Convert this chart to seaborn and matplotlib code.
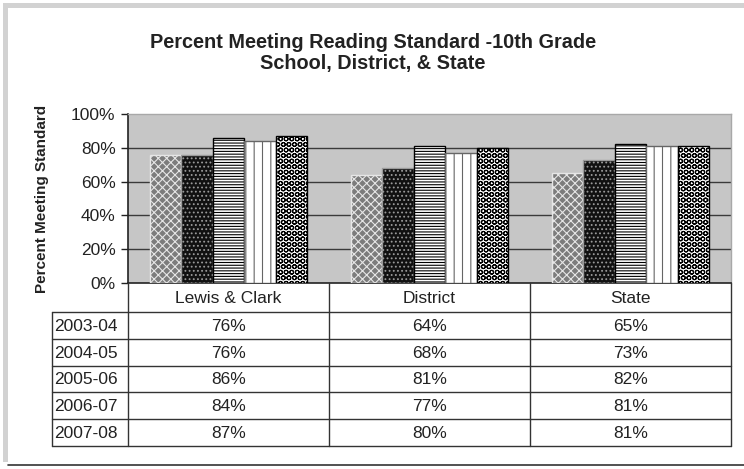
import numpy as np
import pandas as pd
import matplotlib
matplotlib.use("Agg")
import matplotlib.pyplot as plt
import seaborn as sns
from matplotlib.patches import Rectangle
from matplotlib.lines import Line2D

# ---- data ----
categories = ["Lewis & Clark", "District", "State"]
years = ["2003-04", "2004-05", "2005-06", "2006-07", "2007-08"]
v2003 = [76, 64, 65]
v2004 = [76, 68, 73]
v2005 = [86, 81, 82]
v2006 = [84, 77, 81]
v2007 = [87, 80, 81]
series = [v2003, v2004, v2005, v2006, v2007]
yticks = [0, 20, 40, 60, 80, 100]
title = "Percent Meeting Reading Standard -10th Grade\nSchool, District, & State"
ylabel = "Percent Meeting Standard"

rows = []
for yr, vals in zip(years, series):
    for c, v in zip(categories, vals):
        rows.append({"Group": c, "Year": yr, "Value": v})
df = pd.DataFrame(rows)

sns.set_theme(style="white")
plt.rcParams["font.family"] = ["Liberation Sans", "DejaVu Sans"]
plt.rcParams["hatch.linewidth"] = 0.8

W, H = 744, 469
fig = plt.figure(figsize=(W / 100, H / 100), dpi=100)
fig.patch.set_facecolor("white")

L, R, T, B = 128, 731, 114, 283
ax = fig.add_axes([L / W, 1 - B / H, (R - L) / W, (B - T) / H])
ax.set_facecolor("#c6c6c6")

sns.barplot(data=df, x="Group", y="Value", hue="Year", order=categories,
            hue_order=years, width=0.78, ax=ax, legend=False, errorbar=None,
            palette=["#ffffff"] * 5, saturation=1)

styles = [
    dict(face="#7c7c7c", hatch="xxxx", hc="#e6e6e6"),
    dict(face="#111111", hatch="....", hc="#9a9a9a"),
    dict(face="#ffffff", hatch="------", hc="#000000"),
    dict(face="#ffffff", hatch="||", hc="#666666"),
    dict(face="#ffffff", hatch="OOO", hc="#000000"),
]
for cont, st in zip(ax.containers, styles):
    for p in cont:
        p.set_facecolor(st["face"])
        p.set_hatch(st["hatch"])
        if hasattr(p, "set_hatchcolor"):
            p.set_hatchcolor(st["hc"])
            p.set_edgecolor("#111111")
        else:
            p.set_edgecolor(st["hc"])
        p.set_linewidth(1.0)
        p.set_zorder(3)

ax.set_ylim(0, 100)
ax.set_xlim(-0.5, len(categories) - 0.5)
ax.set_yticks(yticks)
ax.set_yticklabels([f"{t}%" for t in yticks], fontsize=12.5, color="#222222")
ax.set_xticks([])
ax.set_xlabel("")
ax.set_ylabel(ylabel, fontsize=11, fontweight="bold", color="#222222", labelpad=16)
ax.tick_params(axis="y", length=5, width=1, color="#222222", left=True, pad=4)
for t in yticks[1:-1]:
    ax.axhline(t, color="#3a3a3a", lw=1.0, zorder=1)
for s in ["top", "right"]:
    ax.spines[s].set_color("#a8a8a8")
    ax.spines[s].set_linewidth(1)
ax.spines["left"].set_color("#222222")
ax.spines["bottom"].set_color("#222222")
ax.spines["left"].set_linewidth(1.2)
ax.spines["bottom"].set_linewidth(1.2)

fig.text(373 / W, 1 - 53 / H, title, ha="center", va="center",
         fontsize=14.3, fontweight="bold", color="#222222", linespacing=1.15)

# ---- overlay for table and frame (pixel coords) ----
ov = fig.add_axes([0, 0, 1, 1], zorder=-1)
ov.set_xlim(0, W)
ov.set_ylim(H, 0)
ov.axis("off")
ov2 = fig.add_axes([0, 0, 1, 1], zorder=5)
ov2.set_xlim(0, W)
ov2.set_ylim(H, 0)
ov2.axis("off")
ov2.patch.set_alpha(0)

# frame
ov.add_patch(Rectangle((3, 3), W, 5, color="#d2d2d2", lw=0))
ov.add_patch(Rectangle((3, 3), 5, 462 - 3, color="#d2d2d2", lw=0))
ov2.add_line(Line2D([8, W], [465, 465], color="#333333", lw=1.2))

# table
lc = "#333333"
x_lab = 52
row_h = 26.8
y_head_bot = 312
col_w = (R - L) / len(categories)
col_x = [L + i * col_w for i in range(len(categories) + 1)]
y_rows = [y_head_bot + i * row_h for i in range(len(years) + 1)]
for cx in col_x:
    ov2.add_line(Line2D([cx, cx], [B, y_rows[-1]], color=lc, lw=1))
ov2.add_line(Line2D([x_lab, x_lab], [y_head_bot, y_rows[-1]], color=lc, lw=1))
for yy in y_rows:
    ov2.add_line(Line2D([x_lab, R], [yy, yy], color=lc, lw=1))
fs = 12.5
for i, c in enumerate(categories):
    ov2.text((col_x[i] + col_x[i + 1]) / 2, (B + y_head_bot) / 2 + 1, c,
             ha="center", va="center", fontsize=fs, color="#222222")
for j, (yr, vals) in enumerate(zip(years, series)):
    yc = (y_rows[j] + y_rows[j + 1]) / 2 + 1
    ov2.text(x_lab + 2, yc, yr, ha="left", va="center", fontsize=fs, color="#222222")
    for i, v in enumerate(vals):
        ov2.text((col_x[i] + col_x[i + 1]) / 2, yc, f"{v}%", ha="center",
                 va="center", fontsize=fs, color="#222222")

fig.savefig("out.png", dpi=100)
